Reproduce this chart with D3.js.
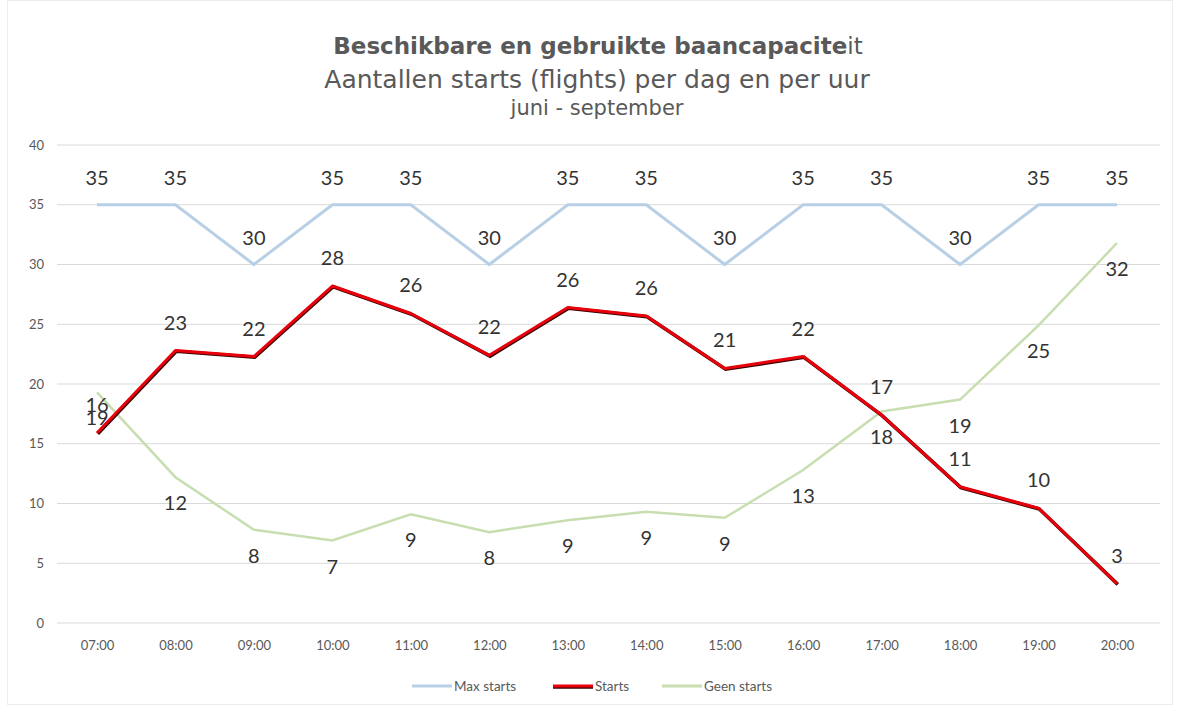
<!DOCTYPE html>
<html><head><meta charset="utf-8">
<script src="https://cdn.jsdelivr.net/npm/d3@7"></script>
<style>body{margin:0;background:#fff}</style>
</head><body>
<svg id="c" width="1177" height="706"></svg>
<script>
const categories = ["07:00","08:00","09:00","10:00","11:00","12:00","13:00","14:00","15:00","16:00","17:00","18:00","19:00","20:00"];
const maxStarts = [35,35,30,35,35,30,35,35,30,35,35,30,35,35];
const starts = [15.9,22.8,22.3,28.2,25.9,22.4,26.4,25.7,21.3,22.3,17.4,11.4,9.6,3.3];
const geenStarts = [19.3,12.2,7.8,6.9,9.1,7.6,8.6,9.3,8.8,12.8,17.7,18.7,24.9,31.8];
const yTicks = [0,5,10,15,20,25,30,35,40];

const svg = d3.select("#c");
const x = d3.scalePoint().domain(categories).range([97,1117]);
const y = d3.scaleLinear().domain([0,40]).range([623,145]);

svg.append("rect").attr("x",7.5).attr("y",0.5).attr("width",1165).attr("height",704).attr("fill","none").attr("stroke","#ececec");

// grid
svg.append("g").selectAll("line").data(yTicks).join("line")
  .attr("x1",57).attr("x2",1160).attr("y1",d=>y(d)).attr("y2",d=>y(d))
  .attr("stroke","#d9d9d9").attr("stroke-width",1);

// y axis labels
const yAxis = d3.axisLeft(y).tickValues(yTicks).tickSize(0).tickPadding(0);
const ga = svg.append("g").attr("transform","translate(44,0)").call(yAxis);
ga.select(".domain").remove();
ga.selectAll("text").attr("font-family","Lato, 'Open Sans', sans-serif").attr("font-size",13).attr("fill","#595959");

// x axis labels
const xAxis = d3.axisBottom(x).tickSize(0).tickPadding(0);
const gx = svg.append("g").attr("transform","translate(0,641)").call(xAxis);
gx.select(".domain").remove();
gx.selectAll("text").attr("font-family","Lato, 'Open Sans', sans-serif").attr("font-size",13).attr("fill","#595959");

const line = d3.line().x((d,i)=>x(categories[i])).y(d=>y(d));

svg.append("path").datum(maxStarts).attr("d",line).attr("fill","none").attr("stroke","#b8d0e6").attr("stroke-width",3);
svg.append("path").datum(geenStarts).attr("d",line).attr("fill","none").attr("stroke","#c8deb0").attr("stroke-width",2.5);
svg.append("path").datum(starts).attr("d",line).attr("fill","none").attr("stroke","#3a0000").attr("stroke-width",3.5).attr("transform","translate(0.8,0.8)");
svg.append("path").datum(starts).attr("d",line).attr("fill","none").attr("stroke","#e8000b").attr("stroke-width",3).attr("stroke-linejoin","round");

// labels
const lblFont = "Lato, 'Open Sans', sans-serif";
function labels(data, dy){
  svg.append("g").selectAll("text").data(data).join("text")
    .attr("x",(d,i)=>x(categories[i])).attr("y",d=>y(d)+dy)
    .attr("text-anchor","middle").attr("font-family",lblFont).attr("font-size",20)
    .attr("fill","#333").text(d=>Math.round(d));
}
labels(maxStarts,-20);
labels(starts,-21);
labels(geenStarts,33);

// title
const t = svg.append("g").attr("font-family","'DejaVu Sans', Verdana, sans-serif").attr("fill","#595959").attr("text-anchor","middle");
const t1 = t.append("text").attr("x",598).attr("y",54).attr("font-size",23);
t1.append("tspan").attr("font-weight","bold").text("Beschikbare  en gebruikte baancapacite");
t1.append("tspan").text("it");
t.append("text").attr("x",597).attr("y",88).attr("font-size",25).text("Aantallen starts (flights) per dag en per uur");
t.append("text").attr("x",597).attr("y",115).attr("font-size",21).text("juni - september");

// legend
const legend = [
  {name:"Max starts", color:"#b8d0e6", x:412},
  {name:"Starts", color:"#e8000b", x:553},
  {name:"Geen starts", color:"#c8deb0", x:662}
];
const lg = svg.append("g");
legend.forEach(l=>{
  if(l.name==="Starts") lg.append("line").attr("x1",l.x).attr("x2",l.x+40).attr("y1",687).attr("y2",687).attr("stroke","#3a0000").attr("stroke-width",3.5);
  lg.append("line").attr("x1",l.x).attr("x2",l.x+40).attr("y1",686).attr("y2",686).attr("stroke",l.color).attr("stroke-width",3);
  lg.append("text").attr("x",l.x+42).attr("y",691).attr("font-family",lblFont).attr("font-size",13.5).attr("fill","#595959").text(l.name);
});
</script>
</body></html>
